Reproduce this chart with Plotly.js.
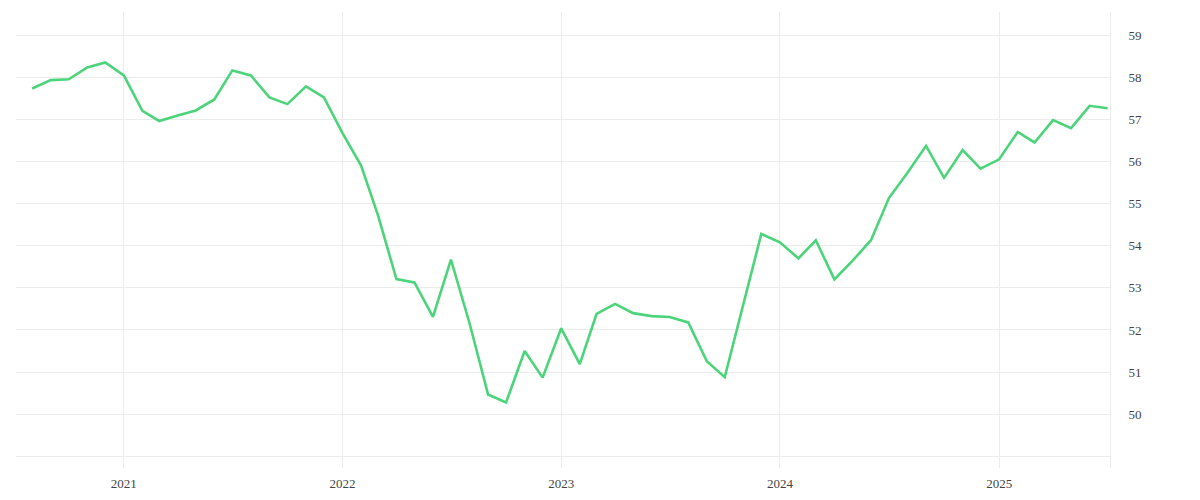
<!DOCTYPE html>
<html>
<head>
<meta charset="utf-8">
<script src="https://cdn.plot.ly/plotly-3.0.1.min.js"></script>
<style>
  html, body { margin: 0; padding: 0; background: #fff; }
  #myDiv { width: 1200px; height: 500px; }
</style>
</head>
<body>
<div id="myDiv"></div>
<script>
// monthly readings, Aug 2020 .. Jul 2025
const months = [
  '2020-08-01','2020-09-01','2020-10-01','2020-11-01','2020-12-01',
  '2021-01-01','2021-02-01','2021-03-01','2021-04-01','2021-05-01','2021-06-01',
  '2021-07-01','2021-08-01','2021-09-01','2021-10-01','2021-11-01','2021-12-01',
  '2022-01-01','2022-02-01','2022-03-01','2022-04-01','2022-05-01','2022-06-01',
  '2022-07-01','2022-08-01','2022-09-01','2022-10-01','2022-11-01','2022-12-01',
  '2023-01-01','2023-02-01','2023-03-01','2023-04-01','2023-05-01','2023-06-01',
  '2023-07-01','2023-08-01','2023-09-01','2023-10-01','2023-11-01','2023-12-01',
  '2024-01-01','2024-02-01','2024-03-01','2024-04-01','2024-05-01','2024-06-01',
  '2024-07-01','2024-08-01','2024-09-01','2024-10-01','2024-11-01','2024-12-01',
  '2025-01-01','2025-02-01','2025-03-01','2025-04-01','2025-05-01','2025-06-01',
  '2025-07-01'
];
const values = [
  57.73, 57.93, 57.95, 58.23, 58.35,
  58.04, 57.20, 56.96, 57.09, 57.21, 57.47,
  58.16, 58.04, 57.52, 57.36, 57.78, 57.52,
  56.67, 55.90, 54.73, 53.21, 53.13, 52.31,
  53.67, 52.16, 50.47, 50.28, 51.50, 50.87,
  52.04, 51.19, 52.38, 52.62, 52.40, 52.33,
  52.31, 52.18, 51.26, 50.88, 52.58, 54.28,
  54.08, 53.70, 54.13, 53.20, 53.64, 54.13,
  55.13, 55.73, 56.37, 55.61, 56.27, 55.83,
  56.05, 56.70, 56.45, 56.98, 56.79, 57.32,
  57.26
];
const yTicks = [49, 50, 51, 52, 53, 54, 55, 56, 57, 58, 59];
const yTickText = ['', '50', '51', '52', '53', '54', '55', '56', '57', '58', '59'];
const xTicks = ['2021-01-01', '2022-01-01', '2023-01-01', '2024-01-01', '2025-01-01'];
const xTickText = ['2021', '2022', '2023', '2024', '2025'];

const gridColor = '#ececec';
const font = { family: '"Liberation Serif", "DejaVu Serif", serif', size: 13, color: '#444' };

const trace = {
  x: months,
  y: values,
  type: 'scatter',
  mode: 'lines',
  line: { color: '#4cd47b', width: 2.6 },
  hoverinfo: 'none'
};

const layout = {
  width: 1200,
  height: 500,
  margin: { l: 16, r: 90, t: 12, b: 32, pad: 0 },
  paper_bgcolor: '#fff',
  plot_bgcolor: '#fff',
  showlegend: false,
  font: font,
  xaxis: {
    type: 'date',
    range: ['2020-07-05', '2025-07-05'],
    tickvals: xTicks,
    ticktext: xTickText,
    showgrid: true,
    gridcolor: gridColor,
    gridwidth: 1,
    zeroline: false,
    showline: false,
    ticks: '',
    ticklabelstandoff: 6,
    tickfont: font
  },
  yaxis: {
    side: 'right',
    range: [48.725, 59.546],
    tickvals: yTicks,
    ticktext: yTickText,
    showgrid: true,
    gridcolor: gridColor,
    gridwidth: 1,
    zeroline: false,
    showline: true,
    linecolor: gridColor,
    linewidth: 1,
    ticks: '',
    ticklabelstandoff: 15,
    tickfont: font
  }
};

const config = { displayModeBar: false, staticPlot: true };
Plotly.newPlot(document.getElementById('myDiv'), [trace], layout, config);
</script>
</body>
</html>
